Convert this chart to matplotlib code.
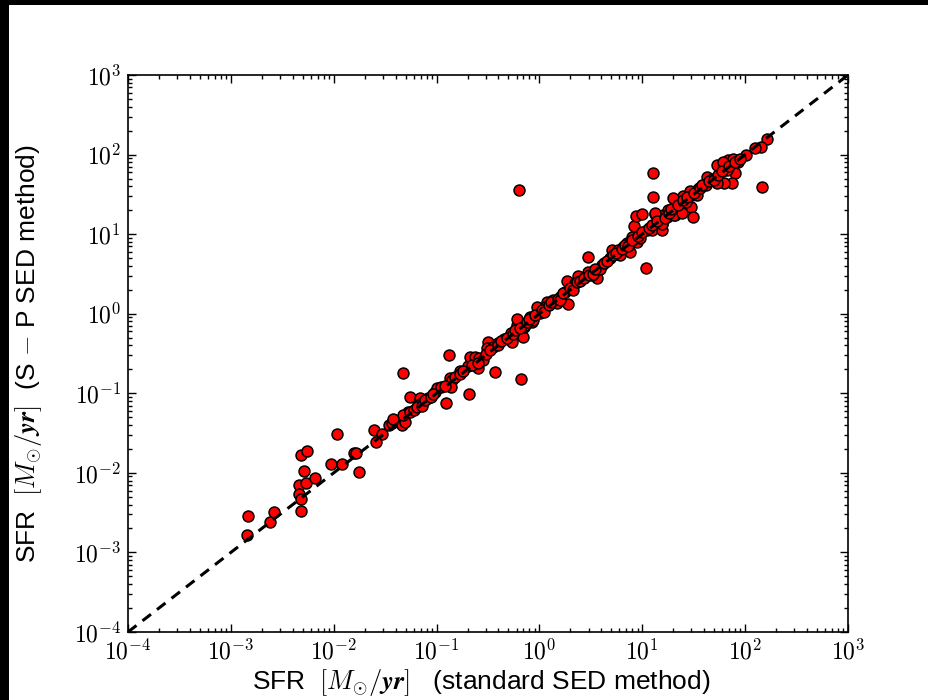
import matplotlib
matplotlib.use("Agg")
import matplotlib.pyplot as plt
from matplotlib.patches import Rectangle
from matplotlib.ticker import FuncFormatter, LogLocator
import numpy as np

plt.rcParams["mathtext.fontset"] = "cm"
plt.rcParams["font.family"] = ["Liberation Sans", "DejaVu Sans"]

# SFR from the standard SED fit (x) and the S-P SED fit (y)
sfr_standard = [
    1.48e-3, 1.45e-3, 2.4e-3, 2.63e-3, 4.8e-3, 5.46e-3, 5.14e-3, 4.62e-3, 5.37e-3, 6.58e-3,
    4.62e-3, 4.8e-3, 4.8e-3, 9.4e-3, 0.012, 0.0107, 0.0158, 0.0163, 0.0176, 0.0247,
    0.0296, 0.0256, 0.0344, 0.0367, 0.046, 0.0493, 0.0469, 0.133, 0.169, 0.135,
    0.14, 0.137, 0.208, 0.124, 0.37, 0.658, 0.0552, 0.069, 0.0743, 0.083,
    0.0664, 0.0967, 0.1017, 0.053, 0.0474, 0.038, 0.203, 0.211, 0.236, 0.26,
    0.255, 0.284, 0.318, 0.307, 0.356, 0.398, 0.452, 0.528, 0.536, 0.601,
    0.61, 0.697, 0.71, 0.871, 0.94, 0.84, 0.632, 2.99, 10.9, 1.91,
    1.84, 1.77, 1.18, 1.37, 1.58, 1.47, 2.22, 2.39, 2.99, 3.6,
    3.22, 4.03, 3.88, 4.85, 5.04, 5.85, 6.07, 6.53, 7.05, 7.59,
    7.88, 8.83, 9.5, 8.3, 8.7, 9.93, 11.0, 12.3, 13.3, 13.8,
    15.4, 15.4, 17.3, 20.8, 21.6, 0.81, 0.73, 0.865, 1.01, 1.13,
    12.6, 12.8, 145.0, 162.0, 143.0, 125.0, 102.0, 85.8, 79.6, 74.0,
    68.6, 66.0, 76.6, 53.6, 61.0, 62.0, 52.7, 42.8, 47.3, 41.6,
    35.8, 33.7, 29.1, 30.2, 25.1, 24.2, 19.7, 22.4, 29.6, 30.8,
    20.2, 24.2, 16.0, 15.4, 13.3, 17.9, 26.5, 33.7,
    0.055, 0.06, 0.065, 0.072, 0.078, 0.088, 0.092, 0.11, 0.12, 0.15,
    0.17, 0.18, 0.22, 0.25, 0.3, 0.33, 0.4, 0.42, 0.48, 0.55,
    0.58, 0.65, 0.75, 0.8, 0.9, 1.05, 1.1, 1.25, 1.3, 1.5,
    1.6, 1.7, 2.0, 2.1, 2.3, 2.5, 2.7, 3.0, 3.3, 3.5,
    4.2, 4.5, 5.2, 5.5, 6.3, 6.8, 7.2, 8.0, 9.0, 10.0,
    11.5, 12.5, 14.0, 16.5, 18.0, 19.0, 22.0, 25.0, 27.0, 32.0,
    36.0, 38.0, 45.0, 50.0, 55.0, 60.0, 70.0, 80.0, 90.0,
]
sfr_sp = [
    2.88e-3, 1.66e-3, 2.44e-3, 3.25e-3, 0.0167, 0.0188, 0.0105, 7.0e-3, 7.5e-3, 8.7e-3,
    5.5e-3, 4.65e-3, 3.34e-3, 0.0128, 0.0128, 0.0308, 0.0176, 0.018, 0.0102, 0.0343,
    0.0308, 0.0247, 0.040, 0.042, 0.040, 0.044, 0.178, 0.303, 0.192, 0.154,
    0.147, 0.121, 0.097, 0.0748, 0.187, 0.151, 0.0906, 0.0865, 0.0783, 0.0865,
    0.0713, 0.105, 0.1156, 0.0586, 0.0533, 0.047, 0.22, 0.288, 0.288, 0.275,
    0.206, 0.262, 0.445, 0.367, 0.385, 0.425, 0.477, 0.567, 0.445, 0.721,
    0.851, 0.514, 0.687, 0.916, 1.22, 0.794, 35.9, 5.12, 3.79, 1.32,
    2.6, 1.89, 1.42, 1.49, 1.64, 1.35, 2.41, 2.98, 3.37, 2.79,
    3.07, 4.09, 3.7, 4.97, 6.32, 6.32, 5.47, 6.95, 7.67, 6.01,
    9.29, 8.04, 8.87, 12.6, 16.9, 17.7, 11.3, 11.3, 17.9, 14.3,
    13.4, 11.3, 16.6, 17.4, 24.4, 0.916, 0.72, 0.834, 1.01, 1.22,
    58.7, 29.6, 38.8, 156.0, 126.0, 120.0, 98.9, 81.4, 58.2, 43.5,
    85.5, 64.0, 87.0, 73.9, 81.4, 43.5, 44.3, 52.7, 48.9, 41.5,
    37.7, 36.0, 35.2, 31.0, 30.1, 26.3, 28.2, 23.2, 21.7, 16.6,
    17.4, 18.3, 17.4, 13.6, 18.3, 20.1, 25.5, 31.0,
    0.058, 0.062, 0.068, 0.07, 0.082, 0.09, 0.097, 0.12, 0.125, 0.16,
    0.175, 0.19, 0.23, 0.24, 0.31, 0.35, 0.41, 0.45, 0.5, 0.56,
    0.62, 0.66, 0.78, 0.85, 0.95, 1.1, 1.05, 1.3, 1.4, 1.55,
    1.5, 1.8, 2.1, 2.0, 2.5, 2.6, 2.8, 3.1, 3.2, 3.7,
    4.3, 4.6, 5.4, 5.8, 6.5, 7.2, 7.0, 8.5, 9.4, 10.5,
    12.0, 13.0, 14.5, 16.0, 18.5, 21.0, 23.5, 27.0, 29.0, 33.0,
    38.0, 42.0, 46.0, 48.0, 56.0, 62.0, 72.0, 80.0, 88.0,
]

axis_min, axis_max = 1e-4, 1e3
xlabel = r"SFR  $[\boldsymbol{M_{\odot}/yr}]$   (standard SED method)"
ylabel = r"SFR  $[\boldsymbol{M_{\odot}/yr}]$  (S $-$ P SED method)"

fig = plt.figure(figsize=(9.29, 7.0), dpi=100, facecolor="black")
# white panel of the screenshot, behind the axes
fig.patches.append(Rectangle((9 / 929, 0), 1, 695 / 700, transform=fig.transFigure,
                             facecolor="white", edgecolor="none", zorder=-5))

ax = fig.add_axes([128 / 929, 1 - 632 / 700, 720 / 929, 557 / 700])
ax.set_zorder(2)
ax.scatter(sfr_standard, sfr_sp, s=62, c="red", edgecolors="black", linewidths=1.1, zorder=2)
ax.plot([axis_min, axis_max], [axis_min, axis_max], color="black", lw=2.2,
        dashes=(3.5, 2.5), zorder=3)

ax.set_xscale("log")
ax.set_yscale("log")
ax.set_xlim(axis_min, axis_max)
ax.set_ylim(axis_min, axis_max)

fmt = FuncFormatter(lambda v, pos: r"$10^{%d}$" % int(round(np.log10(v))))
for axis in (ax.xaxis, ax.yaxis):
    axis.set_major_locator(LogLocator(base=10, numticks=20))
    axis.set_minor_locator(LogLocator(base=10, subs=np.arange(2, 10), numticks=20))
    axis.set_major_formatter(fmt)

ax.tick_params(which="both", direction="in", top=True, right=True, width=1, labelsize=17)
ax.tick_params(which="major", length=6, pad=5)
ax.tick_params(which="minor", length=3)
for sp in ax.spines.values():
    sp.set_linewidth(1.2)

ax.set_xlabel(xlabel, fontsize=19)
ax.set_ylabel(ylabel, fontsize=19)
ax.xaxis.set_label_coords(0.49, -0.063)
ax.yaxis.set_label_coords(-0.116, 0.5)

fig.savefig("out.png", dpi=100, facecolor=fig.get_facecolor())
